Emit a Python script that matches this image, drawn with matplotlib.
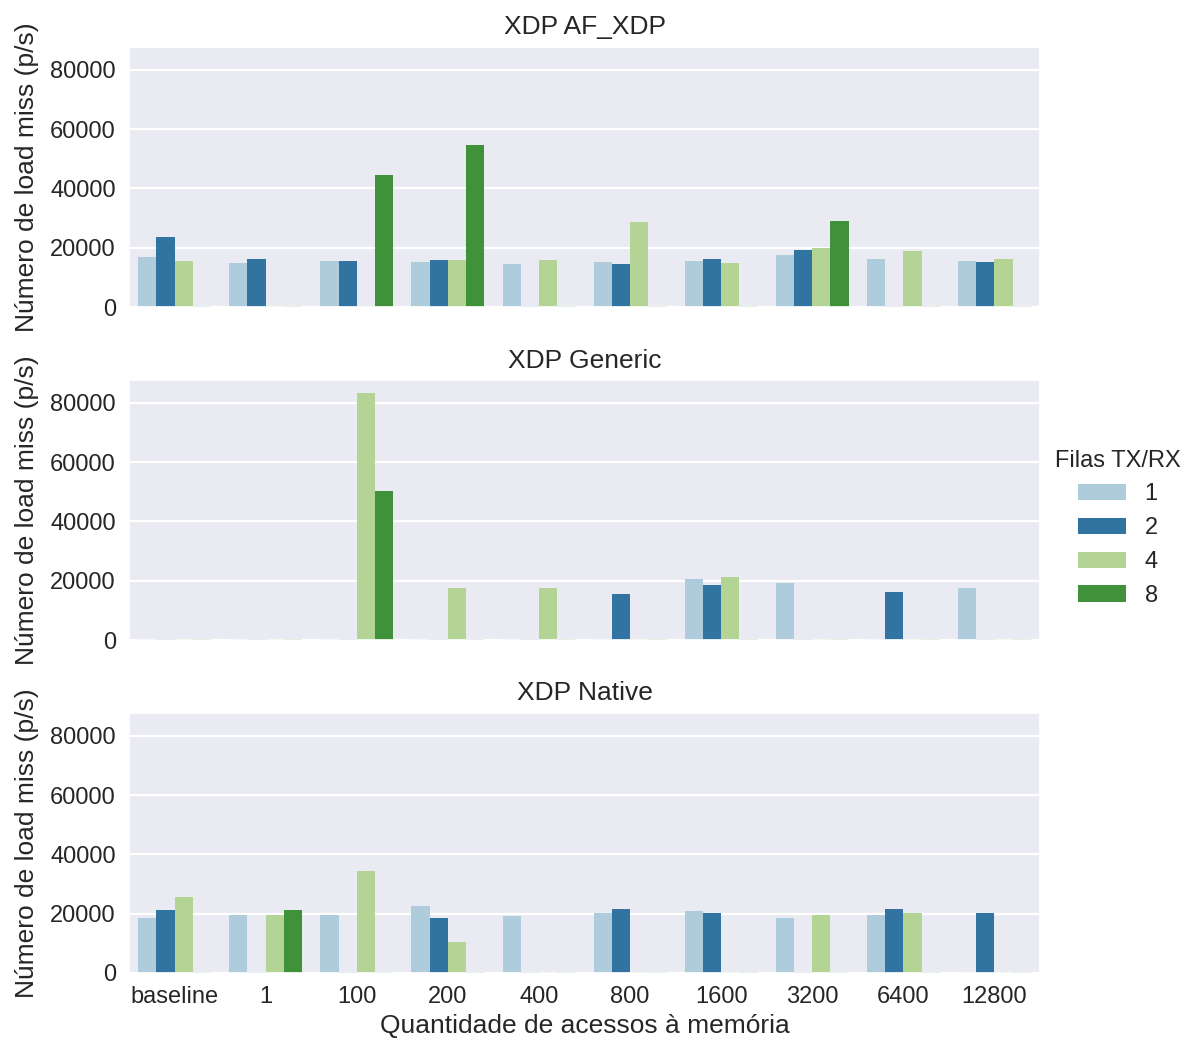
import pandas as pd
import matplotlib
matplotlib.use('Agg')
import matplotlib.pyplot as plt
import seaborn as sns

# Data
acessos = ['baseline', '1', '100', '200', '400', '800', '1600', '3200', '6400', '12800']
filas = ['1', '2', '4', '8']
modos = ['XDP AF_XDP', 'XDP Generic', 'XDP Native']

af_xdp_1 = [16900, 14800, 15500, 15200, 14500, 15200, 15500, 17500, 16200, 15500]
af_xdp_2 = [23600, 16200, 15500, 15800, 300, 14500, 16200, 19200, 300, 15200]
af_xdp_4 = [15500, 300, 300, 15800, 15800, 28700, 14800, 19900, 18900, 16200]
af_xdp_8 = [300, 300, 44500, 54600, 300, 300, 300, 29000, 300, 300]

generic_1 = [300, 300, 300, 300, 300, 300, 20600, 19200, 300, 17500]
generic_2 = [300, 300, 300, 300, 300, 15500, 18600, 300, 16200, 300]
generic_4 = [300, 300, 83300, 17500, 17500, 300, 21300, 300, 300, 300]
generic_8 = [300, 300, 50200, 300, 300, 300, 300, 300, 300, 300]

native_1 = [18700, 19400, 19700, 22500, 19100, 20100, 20800, 18700, 19400, 300]
native_2 = [21100, 300, 300, 18400, 300, 21500, 20400, 300, 21500, 20100]
native_4 = [25500, 19400, 34400, 10600, 300, 300, 300, 19400, 20100, 300]
native_8 = [300, 21100, 300, 300, 300, 300, 300, 300, 300, 300]

series = {
    'XDP AF_XDP': [af_xdp_1, af_xdp_2, af_xdp_4, af_xdp_8],
    'XDP Generic': [generic_1, generic_2, generic_4, generic_8],
    'XDP Native': [native_1, native_2, native_4, native_8],
}

rows = []
for modo in modos:
    for fila, vals in zip(filas, series[modo]):
        for a, v in zip(acessos, vals):
            rows.append({'modo': modo, 'fila': fila, 'acessos': a, 'valor': v})
df = pd.DataFrame(rows)

sns.set_theme(style='darkgrid')
plt.rcParams['font.family'] = ['Liberation Sans', 'DejaVu Sans']
plt.rcParams['text.color'] = '.15'
plt.rcParams['axes.labelcolor'] = '.15'
plt.rcParams['grid.linewidth'] = 1.6

fig = plt.figure(figsize=(11.86, 10.46), dpi=100)
left, width, height = 0.1088, 0.7681, 0.2486
bottoms = [0.7065, 0.3881, 0.0698]
palette = sns.color_palette('Paired', 4)

axes = []
for i, modo in enumerate(modos):
    ax = fig.add_axes([left, bottoms[i], width, height],
                      sharey=axes[0] if axes else None)
    sub = df[df['modo'] == modo]
    sns.barplot(data=sub, x='acessos', y='valor', hue='fila', order=acessos,
                hue_order=filas, palette=palette, ax=ax, legend=(i == 0),
                linewidth=0)
    ax.set_title(modo, fontsize=19, pad=9)
    ax.set_ylabel('Número de load miss (p/s)', fontsize=19, labelpad=8)
    ax.tick_params(labelsize=17)
    if i < 2:
        ax.set_xlabel('')
        ax.set_xticklabels([])
    else:
        ax.set_xlabel('Quantidade de acessos à memória', fontsize=19, labelpad=4)
    axes.append(ax)

axes[0].set_ylim(0, 87700)
axes[0].set_yticks([0, 20000, 40000, 60000, 80000])

handles, labels = axes[0].get_legend_handles_labels()
axes[0].get_legend().remove()
fig.legend(handles, labels, title='Filas TX/RX', loc='center',
           bbox_to_anchor=(0.9427, 0.495), frameon=False, fontsize=17,
           title_fontsize=17, handlelength=2.0, handleheight=0.7,
           labelspacing=0.5, handletextpad=0.8, borderaxespad=0)

plt.savefig('out.png', dpi=100)
